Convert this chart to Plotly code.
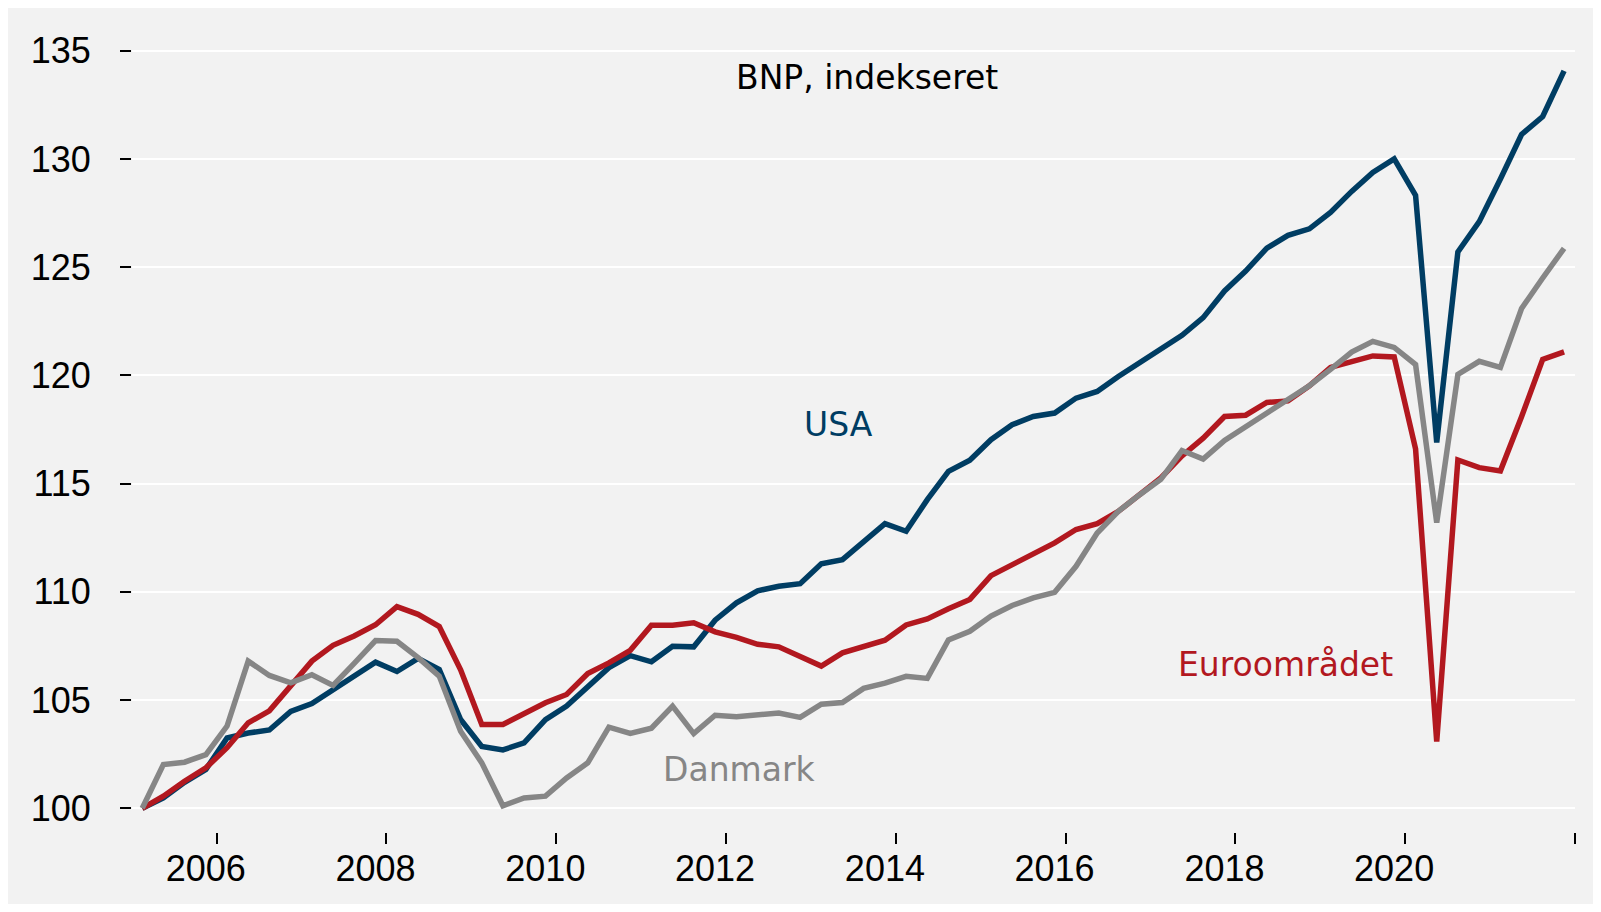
import pandas as pd
import plotly.graph_objects as go

# Quarterly observations 2005Q1 - 2021Q4 (index, 2005Q1 = 100)
quarters = pd.period_range("2005Q1", "2021Q4", freq="Q")
dates = [(p.start_time + (p.end_time - p.start_time) / 2).strftime("%Y-%m-%d") for p in quarters]

usa = [100.0, 100.48, 101.2, 101.8, 103.25, 103.48, 103.62, 104.48, 104.84, 105.48,
       106.1, 106.75, 106.32, 106.93, 106.41, 104.1, 102.86, 102.7, 103.02, 104.1,
       104.72, 105.65, 106.5, 107.05, 106.77, 107.49, 107.46, 108.69, 109.49, 110.05,
       110.26, 110.38, 111.3, 111.49, 112.35, 113.15, 112.8, 114.26, 115.57, 116.08,
       117.03, 117.72, 118.1, 118.26, 118.95, 119.26, 119.95, 120.57, 121.18, 121.85,
       122.67, 123.9, 124.82, 125.88, 126.47, 126.77, 127.53, 128.5, 129.38, 130.0,
       128.32, 116.9, 125.7, 127.1, 129.07, 131.13, 131.96, 134.07]

euro = [100.0, 100.56, 101.25, 101.87, 102.8, 103.95, 104.5, 105.7, 106.8, 107.53,
        107.96, 108.48, 109.32, 108.96, 108.4, 106.4, 103.87, 103.87, 104.38, 104.88,
        105.26, 106.23, 106.72, 107.3, 108.46, 108.46, 108.57, 108.15, 107.9, 107.58,
        107.46, 107.0, 106.57, 107.18, 107.49, 107.77, 108.47, 108.75, 109.22, 109.65,
        110.75, 111.26, 111.77, 112.26, 112.88, 113.15, 113.72, 114.49, 115.26, 116.28,
        117.1, 118.1, 118.16, 118.75, 118.82, 119.52, 120.37, 120.64, 120.9, 120.85,
        116.6, 103.09, 116.09, 115.74, 115.59, 118.09, 120.74, 121.09]

danmark = [100.0, 102.02, 102.13, 102.48, 103.8, 106.8, 106.14, 105.8, 106.17, 105.68,
           106.7, 107.75, 107.72, 106.96, 106.11, 103.56, 102.1, 100.12, 100.48, 100.56,
           101.4, 102.1, 103.75, 103.46, 103.7, 104.72, 103.45, 104.3, 104.23, 104.3,
           104.4, 104.2, 104.81, 104.89, 105.54, 105.78, 106.1, 106.0, 107.78, 108.18,
           108.88, 109.37, 109.72, 109.98, 111.18, 112.72, 113.72, 114.49, 115.2, 116.53,
           116.13, 117.0, 117.63, 118.2, 118.87, 119.52, 120.28, 121.08, 121.57, 121.29,
           120.5, 113.2, 120.04, 120.65, 120.37, 123.09, 124.5, 125.87]

x_tickvals = ["2006-01-01", "2008-01-01", "2010-01-01", "2012-01-01", "2014-01-01",
              "2016-01-01", "2018-01-01", "2020-01-01", "2022-01-01"]
x_ticktext = ["2006", "2008", "2010", "2012", "2014", "2016", "2018", "2020", ""]
y_tickvals = [100, 105, 110, 115, 120, 125, 130, 135]

C_USA = "#003d63"
C_EURO = "#b2181f"
C_DK = "#868686"
BG = "#f2f2f2"
LBL_FONT = "DejaVu Sans"
TICK_FONT = "Liberation Sans, Arial, sans-serif"

fig = go.Figure()
fig.add_trace(go.Scatter(x=dates, y=usa, mode="lines", name="USA",
                         line=dict(color=C_USA, width=5.5)))
fig.add_trace(go.Scatter(x=dates, y=euro, mode="lines", name="Euroområdet",
                         line=dict(color=C_EURO, width=5.5)))
fig.add_trace(go.Scatter(x=dates, y=danmark, mode="lines", name="Danmark",
                         line=dict(color=C_DK, width=5.5)))

annots = [
    dict(text="BNP, indekseret", x="2013-08-29", y=133.75, color="#000000"),
    dict(text="USA", x="2013-05-01", y=117.75, color=C_USA),
    dict(text="Danmark", x="2012-02-24", y=101.8, color=C_DK),
    dict(text="Euroområdet", x="2018-08-04", y=106.65, color=C_EURO),
]
for a in annots:
    fig.add_annotation(x=a["x"], y=a["y"], xref="x", yref="y", text=a["text"],
                       showarrow=False, xanchor="center", yanchor="middle",
                       font=dict(family=LBL_FONT, size=33, color=a["color"]))

fig.update_layout(
    width=1593, height=896,
    margin=dict(l=124, r=26, t=2, b=72),
    paper_bgcolor=BG,
    plot_bgcolor=BG,
    showlegend=False,
    xaxis=dict(
        type="date", range=["2005-01-01", "2022-01-01"],
        tickmode="array", tickvals=x_tickvals, ticktext=x_ticktext,
        ticks="outside", ticklen=11, tickwidth=2, tickcolor="#000000",
        showgrid=False, zeroline=False, showline=False,
        tickfont=dict(family=TICK_FONT, size=36, color="#000000"),
        ticklabelshift=-11, ticklabelstandoff=-6,
    ),
    yaxis=dict(
        range=[98.906, 136.88],
        tickmode="array", tickvals=y_tickvals,
        ticks="outside", ticklen=11, tickwidth=2, tickcolor="#000000",
        showgrid=True, gridcolor="#ffffff", gridwidth=2,
        zeroline=False, showline=False,
        tickfont=dict(family=TICK_FONT, size=36, color="#000000"),
        ticklabelstandoff=22,
    ),
)

fig.write_html("out.html")
